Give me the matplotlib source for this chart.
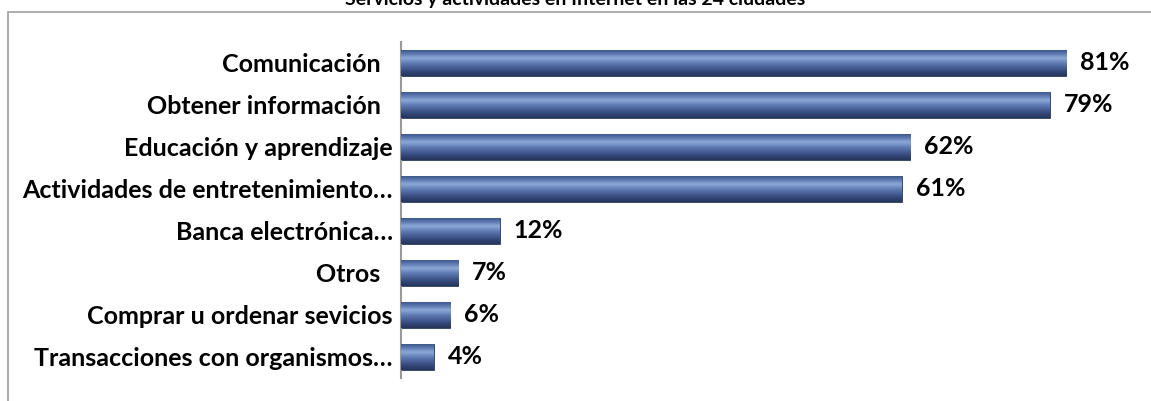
import matplotlib
matplotlib.use("Agg")
import matplotlib.pyplot as plt
import numpy as np
from matplotlib.colors import LinearSegmentedColormap
from matplotlib.patches import Rectangle

title = "Servicios y actividades en Internet en las 24 ciudades"
categories = [
    "Comunicación\u00a0\u00a0",
    "Obtener información\u00a0\u00a0",
    "Educación y aprendizaje",
    "Actividades de entretenimiento…",
    "Banca electrónica…",
    "Otros\u00a0\u00a0",
    "Comprar u ordenar sevicios",
    "Transacciones con organismos…",
]
values = [81, 79, 62, 61, 12, 7, 6, 4]

plt.rcParams['font.family'] = ['Lato', 'DejaVu Sans']

fig = plt.figure(figsize=(11.51, 4.01), dpi=100)
W, H = 1151, 401
ax = fig.add_axes([401 / W, 23 / H, (1140 - 401) / W, (378 - 42) / H])

# bevelled blue look: vertical gradient inside each bar
grad = LinearSegmentedColormap.from_list(
    "bevel", ["#3a4f80", "#5b78b0", "#8ea8d8", "#6580b8", "#4a6398", "#34477a", "#26355a"])
ramp = np.linspace(0, 1, 64).reshape(-1, 1)

ypos = np.arange(len(categories))
bh = 0.62
bars = ax.barh(ypos, values, height=bh, color="#4a6394", edgecolor="#2a3a60", linewidth=0.6, zorder=2)
for b in bars:
    x0, y0 = b.get_x(), b.get_y()
    w, h = b.get_width(), b.get_height()
    im = ax.imshow(ramp, cmap=grad, aspect="auto", extent=[x0, x0 + w, y0 + h, y0],
                   zorder=3, interpolation="bicubic")
    im.set_clip_path(b)

for y, v in zip(ypos, values):
    ax.annotate(f"{v}%", (v, y), xytext=(10, 0), textcoords="offset points",
                va="center", ha="left", fontsize=18, fontweight="bold", color="black")

ax.set_xlim(0, (1140 - 401) / 8.21)
ax.set_ylim(len(categories) - 0.5, -0.5)
ax.set_yticks(ypos)
ax.set_yticklabels(categories, fontsize=18, fontweight="bold")
ax.tick_params(axis="y", length=0, pad=6)
ax.set_xticks([])
for s in ["top", "right", "bottom"]:
    ax.spines[s].set_visible(False)
ax.spines["left"].set_color("#9a9a9a")
ax.spines["left"].set_linewidth(1.5)

# chart area frame (cut off at right and bottom)
fig.patches.append(Rectangle((8 / W, -0.2), 1.2, 1.2 - 12 / H, transform=fig.transFigure,
                             fill=False, edgecolor="#a0a0a0", linewidth=1.2))

fig.text(0.5, 1 - 5 / H, title, ha="center", va="baseline", fontsize=14, fontweight="bold")

fig.savefig("out.png", dpi=100)
